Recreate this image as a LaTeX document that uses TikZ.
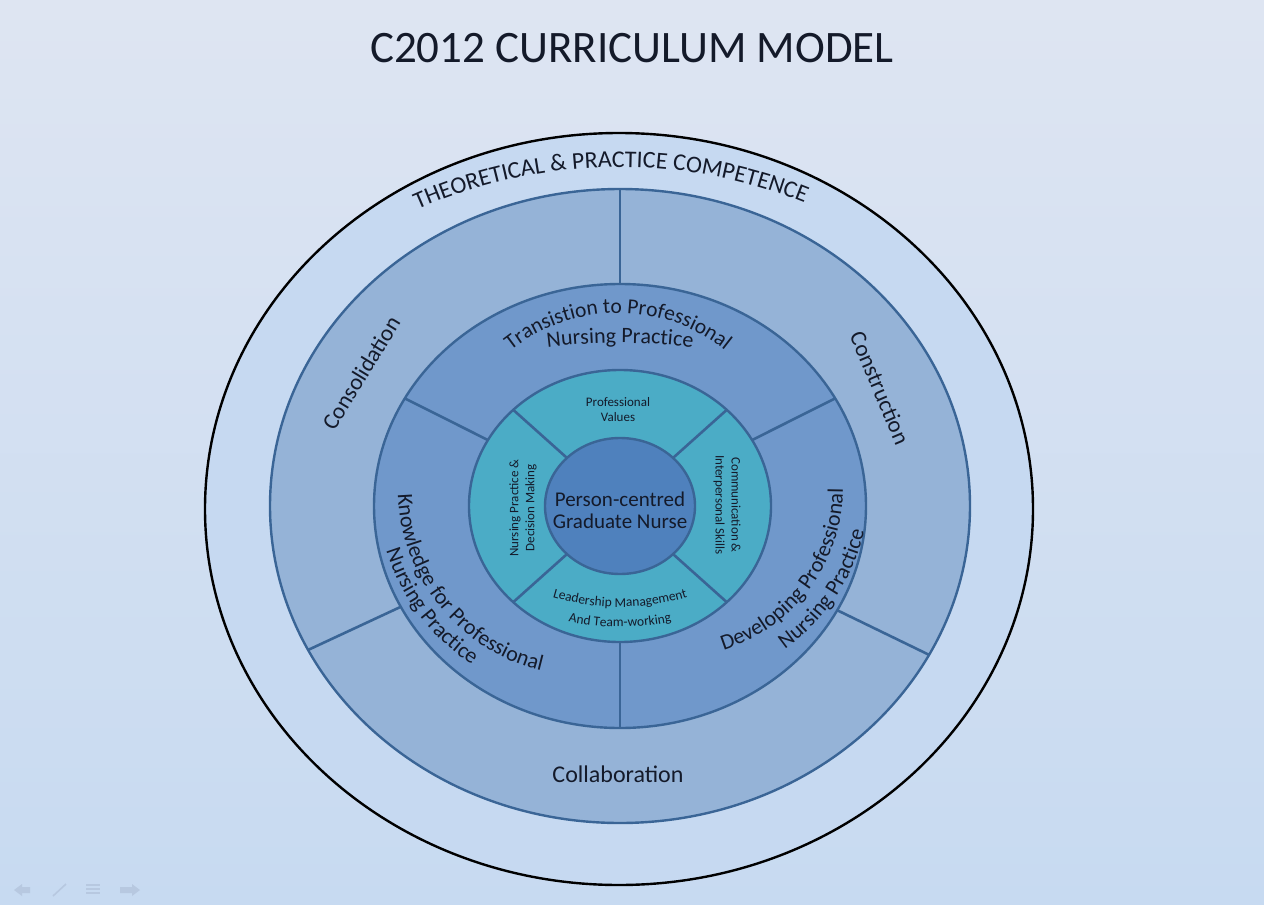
\documentclass[tikz,border=0pt]{standalone}
\usepackage{fontspec}
\setmainfont{Carlito}
\usetikzlibrary{decorations.text,calc}
\definecolor{bgtop}{HTML}{DEE5F2}
\definecolor{bgbot}{HTML}{C7DAF1}
\definecolor{ringA}{HTML}{C6D9F1}
\definecolor{ringB}{HTML}{95B3D7}
\definecolor{ringC}{HTML}{7098CB}
\definecolor{ringD}{HTML}{4BACC6}
\definecolor{coreC}{HTML}{4F81BD}
\definecolor{edgeC}{HTML}{3A6596}
\definecolor{ink}{HTML}{141A2A}
\definecolor{navicon}{HTML}{B7C8E0}
\begin{document}
\begin{tikzpicture}[x=1pt,y=1pt,
  ringedge/.style={draw=edgeC, line width=2.4pt},
  divider/.style={draw=edgeC, line width=2.6pt},
  lbl/.style={text=ink, inner sep=0pt, align=center},
  arctext/.style={decorate, decoration={text along path, text align=center, text color=ink, text={#1}}}
]
\useasboundingbox (0,0) rectangle (1264,-905);
\shade[top color=bgtop, bottom color=bgbot] (0,0) rectangle (1264,-905);

% faint slide-show controls
\fill[navicon] (14,-890) -- (22,-884) -- (22,-887) -- (30,-887) -- (30,-893) -- (22,-893) -- (22,-896) -- cycle;
\draw[navicon, line width=1.6pt] (53,-896) -- (66,-884);
\foreach \yy in {-885,-889,-893} \draw[navicon, line width=1.4pt] (86,\yy) -- (100,\yy);
\fill[navicon] (140,-890) -- (132,-884) -- (132,-887) -- (120,-887) -- (120,-893) -- (132,-893) -- (132,-896) -- cycle;

\node[lbl, font=\fontsize{45}{50}\selectfont] (title) at (632,-48) {C2012 CURRICULUM MODEL};

\coordinate (C) at (620,-506);

% outer ring
\filldraw[fill=ringA, draw=black, line width=2.4pt] (619,-509) ellipse [x radius=414, y radius=376];

% second ring
\filldraw[ringedge, fill=ringB] (C) ellipse [x radius=350, y radius=317];
\foreach \a in {90,207,332} {
  \coordinate (bo\a) at ($(C)+({350*cos(\a)},{317*sin(\a)})$);
  \coordinate (bi\a) at ($(C)+({246*cos(\a)},{222*sin(\a)})$);
  \draw[divider] (bo\a) -- (bi\a);
}

% third ring
\filldraw[ringedge, fill=ringC] (C) ellipse [x radius=246, y radius=222];
\foreach \a in {29,151,270} {
  \coordinate (co\a) at ($(C)+({246*cos(\a)},{222*sin(\a)})$);
  \coordinate (ci\a) at ($(C)+({151*cos(\a)},{136*sin(\a)})$);
  \draw[divider] (co\a) -- (ci\a);
}

% aqua ring
\filldraw[ringedge, fill=ringD] (C) ellipse [x radius=151, y radius=136];
\foreach \a in {45,135,225,315} {
  \coordinate (do\a) at ($(C)+({151*cos(\a)},{136*sin(\a)})$);
  \coordinate (di\a) at ($(C)+({75*cos(\a)},{68*sin(\a)})$);
  \draw[divider] (do\a) -- (di\a);
}

% core
\filldraw[ringedge, fill=coreC] (C) ellipse [x radius=75, y radius=68];

% ---- texts ----
\path[arctext={|\fontsize{24}{24}\selectfont|THEORETICAL {\&} PRACTICE COMPETENCE}]
  ($(619,-663)+(125:496)$) arc[start angle=125, end angle=57, radius=496];

\node[lbl, font=\fontsize{23}{26}\selectfont, rotate=58.5] (consol) at (361,-373) {Consolidation};
\node[lbl, font=\fontsize{23}{26}\selectfont, rotate=-67] (constr) at (880,-388) {Construction};
\node[lbl, font=\fontsize{24}{26}\selectfont] (collab) at (618,-774) {Collaboration};

\path[arctext={|\fontsize{21.5}{21.5}\selectfont|Transistion to Professional}]
  ($(618,-485)+(140:172)$) arc[start angle=140, end angle=40, radius=172];
\path[arctext={|\fontsize{22}{22}\selectfont|Nursing Practice}]
  ($(620,-943)+(100:600)$) arc[start angle=100, end angle=80, radius=600];

\path[arctext={|\fontsize{22}{22}\selectfont|Knowledge for Professional}]
  ($(585,-489)+(174:187)$) arc[start angle=174, end angle=264, radius=187];
\path[arctext={|\fontsize{22}{22}\selectfont|Nursing Practice}]
  ($(587,-489)+(187:210)$) arc[start angle=187, end angle=247, radius=210];

\path[arctext={|\fontsize{22}{22}\selectfont|Developing Professional}]
  ($(673,-488)+(278:170)$) arc[start angle=278, end angle=369, radius=170];
\path[arctext={|\fontsize{22}{22}\selectfont|Nursing Practice}]
  ($(673,-488)+(296:196)$) arc[start angle=296, end angle=356, radius=196];

\node[lbl, font=\fontsize{13}{15}\selectfont] (values) at (618,-410) {Professional\\Values};
\node[lbl, font=\fontsize{13}{16}\selectfont, rotate=90] (npdm) at (523,-508) {Nursing Practice \&\\Decision Making};
\node[lbl, font=\fontsize{13}{16}\selectfont, rotate=-90] (comm) at (727,-505) {Communication \&\\Interpersonal Skills};

\path[arctext={|\fontsize{13.5}{13.5}\selectfont|Leadership Management}]
  ($(620,-370)+(245:237)$) arc[start angle=245, end angle=295, radius=237];
\path[arctext={|\fontsize{13.5}{13.5}\selectfont|And Team-working}]
  ($(620,-370)+(255:257)$) arc[start angle=255, end angle=285, radius=257];

\node[lbl, font=\fontsize{21}{22}\selectfont] (core) at (620,-510) {Person-centred\\Graduate Nurse};
\end{tikzpicture}
\end{document}
